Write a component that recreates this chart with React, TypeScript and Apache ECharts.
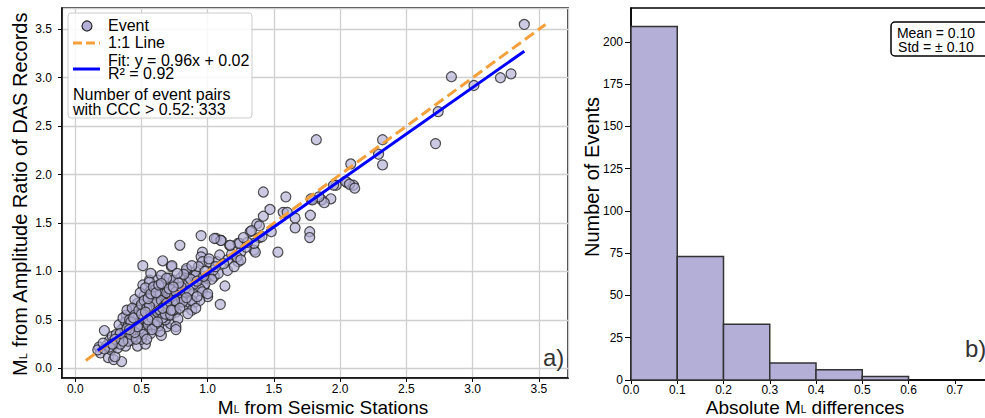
import React, { useEffect, useRef } from "react";
import * as echarts from "echarts";

// ---------- Data ----------
const eventPoints: [number, number][] = [
  // low end
  [0.18, 0.22], [0.19, 0.16], [0.17, 0.19], [0.22, 0.39], [0.25, 0.11], [0.29, 0.09], [0.35, 0.07],
  [0.27, 0.19], [0.3, 0.12], [0.32, 0.21], [0.24, 0.24], [0.26, 0.29], [0.3, 0.26], [0.33, 0.31],
  [0.28, 0.33], [0.36, 0.34], [0.38, 0.23], [0.4, 0.32], [0.37, 0.43], [0.35, 0.4], [0.42, 0.39],
  [0.43, 0.29], [0.47, 0.23], [0.42, 0.57], [0.385, 0.55], [0.45, 0.62], [0.46, 0.5], [0.33, 0.45],
  [0.38, 0.48], [0.4, 0.45], [0.44, 0.45], [0.34, 0.25], [0.31, 0.35], [0.26, 0.22], [0.22, 0.2],
  [0.21, 0.26],
  // middle
  [0.5, 0.44], [0.54, 0.4], [0.57, 0.36], [0.61, 0.41], [0.65, 0.34], [0.69, 0.43], [0.67, 0.5],
  [0.72, 0.46], [0.51, 0.6], [0.47, 0.67], [0.55, 0.68], [0.52, 0.75], [0.57, 0.81], [0.51, 0.86],
  [0.56, 0.91], [0.62, 0.91], [0.67, 0.89], [0.61, 0.84], [0.66, 0.77], [0.71, 0.72], [0.64, 0.65],
  [0.69, 0.6], [0.6, 0.57], [0.56, 0.51], [0.57, 0.98], [0.65, 0.96], [0.71, 0.93], [0.51, 1.06],
  [0.53, 0.25], [0.56, 0.89], [0.48, 0.55], [0.5, 0.52], [0.53, 0.48], [0.55, 0.58], [0.58, 0.62],
  [0.59, 0.7], [0.62, 0.74], [0.63, 0.55], [0.66, 0.58], [0.68, 0.68], [0.7, 0.8], [0.73, 0.76],
  [0.74, 0.66], [0.76, 0.58], [0.78, 0.72], [0.48, 0.35], [0.5, 0.3], [0.44, 0.33], [0.46, 0.4],
  [0.52, 0.38], [0.58, 0.45], [0.6, 0.5], [0.63, 0.44], [0.64, 0.38], [0.68, 0.5], [0.7, 0.55],
  [0.45, 0.71], [0.49, 0.78], [0.53, 0.83], [0.58, 0.73], [0.6, 0.66], [0.66, 0.83], [0.72, 0.86],
  // dense core
  [0.36, 0.52], [0.39, 0.6], [0.41, 0.5], [0.43, 0.62], [0.45, 0.55], [0.47, 0.46], [0.49, 0.41],
  [0.51, 0.35], [0.54, 0.3], [0.55, 0.45], [0.57, 0.55], [0.59, 0.6], [0.61, 0.68], [0.63, 0.78],
  [0.65, 0.7], [0.67, 0.64], [0.69, 0.78], [0.71, 0.65], [0.73, 0.7], [0.75, 0.75], [0.77, 0.66],
  [0.79, 0.76], [0.81, 0.8], [0.83, 0.85], [0.85, 0.95], [0.87, 0.85], [0.89, 0.95], [0.91, 1.0],
  [0.93, 0.88], [0.95, 0.92], [0.97, 0.84], [0.99, 0.93], [1.02, 0.97], [1.05, 0.95], [1.07, 1.1],
  [1.08, 0.98], [0.42, 0.48], [0.44, 0.52], [0.48, 0.6], [0.5, 0.66], [0.52, 0.7], [0.54, 0.62],
  [0.56, 0.64], [0.58, 0.52], [0.6, 0.45], [0.62, 0.58], [0.64, 0.6], [0.66, 0.52], [0.68, 0.56],
  [0.7, 0.62], [0.72, 0.55], [0.74, 0.6], [0.38, 0.38], [0.4, 0.28], [0.42, 0.35], [0.36, 0.28],
  [0.34, 0.36], [0.3, 0.3], [0.28, 0.25], [0.46, 0.3], [0.5, 0.56], [0.53, 0.58], [0.55, 0.72],
  [0.57, 0.77], [0.59, 0.84], [0.61, 0.78], [0.63, 0.86], [0.45, 0.37], [0.47, 0.43], [0.39, 0.41],
  [0.41, 0.4], [0.55, 0.5], [0.58, 0.4], [0.62, 0.48], [0.75, 0.82], [0.8, 0.72], [0.82, 0.64],
  [0.86, 0.68], [0.9, 0.68], [0.88, 0.6],
  // 0.65 - 1.25
  [0.95, 1.37], [0.79, 1.27], [1.065, 1.34], [1.1, 1.32], [1.165, 1.27], [1.23, 1.29], [1.25, 1.2],
  [0.96, 1.2], [0.95, 1.15], [0.96, 1.1], [1.09, 1.17], [1.15, 1.12], [1.23, 1.1], [1.01, 1.1],
  [1.04, 1.01], [1.15, 1.01], [1.13, 0.85], [1.095, 0.66], [0.725, 1.05], [0.84, 1.01], [0.91, 0.96],
  [1.03, 0.92], [0.98, 0.87], [0.94, 0.82], [0.89, 0.86], [0.84, 0.89], [0.79, 0.93], [0.74, 0.91],
  [0.69, 0.93], [0.65, 0.875], [0.71, 0.82], [0.76, 0.79], [0.83, 0.79], [0.89, 0.77], [0.96, 0.79],
  [1.0, 0.74], [0.94, 0.7], [0.88, 0.7], [0.81, 0.685], [0.75, 0.7], [0.69, 0.67], [0.66, 0.62],
  [0.725, 0.6], [0.79, 0.62], [0.85, 0.565], [0.91, 0.62], [0.775, 0.51], [0.76, 0.43], [0.76, 0.4],
  [0.66, 1.11], [0.73, 1.06], [0.84, 1.03], [1.0, 0.77], [1.01, 1.13], [0.87, 0.92], [0.92, 0.9],
  [0.97, 0.95], [0.82, 0.97], [0.77, 0.98], [0.93, 1.05], [0.88, 1.06], [0.8, 0.84], [0.86, 0.8],
  [0.92, 0.74], [0.84, 0.73], [0.78, 0.88], [0.74, 0.84], [0.98, 1.0], [1.06, 1.05], [1.12, 1.08],
  [1.18, 1.18], [1.2, 1.05], [1.22, 1.15],
  // upper
  [1.42, 1.82], [1.59, 1.77], [1.47, 1.64], [1.57, 1.61], [1.66, 1.55], [1.66, 1.45], [1.775, 1.58],
  [1.77, 1.41], [1.77, 1.35], [1.53, 1.2], [1.42, 1.57], [1.37, 1.49], [1.32, 1.41], [1.48, 1.41],
  [1.39, 1.35], [1.35, 1.22], [1.29, 1.25], [1.25, 1.12], [1.78, 1.75], [1.86, 1.74], [1.93, 1.75],
  [1.88, 1.71], [2.05, 1.92], [2.1, 1.89], [2.08, 2.11], [1.97, 1.89], [1.39, 1.47], [1.33, 1.42],
  [1.41, 1.36], [1.36, 1.2], [1.35, 1.29], [1.24, 1.29], [1.17, 1.27], [1.1, 1.32], [1.05, 1.34],
  [1.3, 1.3], [1.27, 1.35], [1.6, 1.61], [1.84, 1.77],
  // outliers
  [3.39, 3.55], [2.84, 3.01], [3.01, 2.92], [3.21, 3.0], [3.29, 3.04], [2.74, 2.65], [2.72, 2.32],
  [1.82, 2.36], [2.32, 2.36], [2.29, 2.21], [2.32, 2.1], [2.04, 1.93], [2.07, 1.9], [2.11, 1.86],
  [1.95, 1.89], [1.79, 1.74],
];

const oneToOneLine: [number, number][] = [[0.08, 0.08], [3.55, 3.55]];
const fitLine: [number, number][] = [[0.17, 0.183], [3.39, 3.274]];

const histBinEdges = [0, 0.1, 0.2, 0.3, 0.4, 0.5, 0.6];
const histCounts = [209, 73, 33, 10, 6, 2];

const legendLabels = ["Event", "1:1 Line", "Fit: y = 0.96x + 0.02\nR² = 0.92"];
const noteText = "Number of event pairs\nwith CCC > 0.52: 333";
const statText = "Mean = 0.10\nStd = ± 0.10";

const FONT = "'Liberation Sans', Arial, sans-serif";
const PURPLE = "#b4afd6";

export default function App() {
  const ref = useRef<HTMLDivElement>(null);

  useEffect(() => {
    if (!ref.current) return;
    const chart = echarts.init(ref.current, undefined, { renderer: "svg" });

    const titleStyle = (text: string, size: number) => ({
      text,
      fontSize: size,
      fontFamily: FONT,
      fill: "#000",
      align: "center",
      verticalAlign: "middle",
      rich: {
        sub: {
          fontSize: Math.round(size * 0.55), fontFamily: FONT, color: "#000", lineHeight: 8,
          verticalAlign: "bottom", padding: [Math.round(size * 0.45), 0, 0, 0],
        },
        main: { fontSize: size, fontFamily: FONT, color: "#000", lineHeight: size - 4 },
      },
    });

    const txt = (x: number, y: number, text: string, size: number, extra: any = {}) => ({
      type: "text",
      x,
      y,
      z: 100,
      style: { text, fontSize: size, fontFamily: FONT, fill: "#000", verticalAlign: "middle", ...extra },
    });

    const baseAxis = {
      axisLine: { show: true, onZero: false, lineStyle: { color: "#000", width: 1.5 } },
      axisTick: { show: true, length: 4, lineStyle: { color: "#000", width: 1 } },
    };

    const option: any = {
      animation: false,
      textStyle: { fontFamily: FONT },
      grid: [
        { left: 62, top: 8, width: 506, height: 370, show: true, borderColor: "#000", borderWidth: 1.5, backgroundColor: "#fff" },
        { left: 631, top: 8, width: 370, height: 372, show: true, borderColor: "#000", borderWidth: 1.5, backgroundColor: "#fff" },
      ],
      xAxis: [
        {
          ...baseAxis,
          type: "value",
          gridIndex: 0,
          min: -0.1,
          max: 3.72,
          splitNumber: 8,
          axisLabel: {
            color: "#000", fontSize: 12, fontFamily: FONT, margin: 5, lineHeight: 12,
            showMinLabel: false, showMaxLabel: false,
            formatter: (v: number) => v.toFixed(1),
          },
          splitLine: { show: true, lineStyle: { color: "#d0d0d0", width: 1.3 } },
        },
        {
          ...baseAxis,
          type: "value",
          gridIndex: 1,
          min: 0,
          max: 0.8,
          interval: 0.1,
          axisLabel: {
            color: "#000", fontSize: 12, fontFamily: FONT, margin: 4, lineHeight: 12,
            showMaxLabel: false,
            formatter: (v: number) => v.toFixed(1),
          },
          splitLine: { show: false },
        },
      ],
      yAxis: [
        {
          ...baseAxis,
          type: "value",
          gridIndex: 0,
          min: -0.1,
          max: 3.72,
          splitNumber: 8,
          axisLabel: {
            color: "#000", fontSize: 12, fontFamily: FONT, margin: 10,
            showMinLabel: false, showMaxLabel: false,
            formatter: (v: number) => v.toFixed(1),
          },
          splitLine: { show: true, lineStyle: { color: "#d0d0d0", width: 1.3 } },
        },
        {
          ...baseAxis,
          type: "value",
          gridIndex: 1,
          min: 0,
          max: 220,
          interval: 25,
          axisTick: { show: true, length: 6, lineStyle: { color: "#000", width: 1 } },
          axisLabel: { color: "#000", fontSize: 12, fontFamily: FONT, margin: 8, showMaxLabel: false },
          splitLine: { show: false },
        },
      ],
      series: [
        {
          type: "scatter",
          xAxisIndex: 0,
          yAxisIndex: 0,
          data: eventPoints,
          symbolSize: 10,
          itemStyle: { color: "rgba(180,175,214,0.85)", borderColor: "#262626", borderWidth: 1.2 },
          z: 2,
        },
        {
          type: "line",
          xAxisIndex: 0,
          yAxisIndex: 0,
          data: oneToOneLine,
          symbol: "none",
          lineStyle: { color: "#f5a03a", width: 3, type: [11, 5] },
          z: 3,
        },
        {
          type: "line",
          xAxisIndex: 0,
          yAxisIndex: 0,
          data: fitLine,
          symbol: "none",
          lineStyle: { color: "#0000ff", width: 3 },
          z: 4,
        },
        {
          type: "custom",
          xAxisIndex: 1,
          yAxisIndex: 1,
          data: histCounts.map((c, i) => [histBinEdges[i], histBinEdges[i + 1], c]),
          encode: { x: [0, 1], y: 2 },
          renderItem: (_params: any, api: any) => {
            const p0 = api.coord([api.value(0), api.value(2)]);
            const p1 = api.coord([api.value(1), 0]);
            return {
              type: "rect",
              shape: { x: p0[0], y: p0[1], width: p1[0] - p0[0], height: p1[1] - p0[1] },
              style: { fill: PURPLE, stroke: "#333", lineWidth: 1.5 },
            };
          },
          z: 2,
        },
      ],
      graphic: [
        // legend box
        {
          type: "rect", z: 100,
          shape: { x: 68, y: 13, width: 184, height: 105, r: 3 },
          style: { fill: "rgba(255,255,255,0.85)", stroke: "#cccccc", lineWidth: 1 },
        },
        {
          type: "circle", z: 101,
          shape: { cx: 87, cy: 26, r: 5 },
          style: { fill: PURPLE, stroke: "#262626", lineWidth: 1.2 },
        },
        txt(108, 25, legendLabels[0], 16),
        {
          type: "line", z: 101,
          shape: { x1: 73, y1: 43, x2: 100, y2: 43 },
          style: { stroke: "#f5a03a", lineWidth: 3, lineDash: [9, 4] },
        },
        txt(108, 42, legendLabels[1], 16),
        {
          type: "line", z: 101,
          shape: { x1: 73, y1: 69, x2: 100, y2: 69 },
          style: { stroke: "#0000ff", lineWidth: 3 },
        },
        txt(108, 66.5, legendLabels[2], 16, { lineHeight: 13 }),
        txt(73, 101.5, noteText, 16, { lineHeight: 15 }),
        // panel tags
        txt(543, 357, "a)", 24, { fill: "#333" }),
        txt(965, 348, "b)", 24, { fill: "#333" }),
        // stats box
        {
          type: "rect", z: 100,
          shape: { x: 891, y: 22, width: 110, height: 34, r: 4 },
          style: { fill: "#fff", stroke: "#000", lineWidth: 1.5 },
        },
        txt(936, 40, statText, 14, { lineHeight: 14, align: "center" }),
        // axis titles
        { type: "text", z: 100, x: 323, y: 407, style: titleStyle("{main|M}{sub|L}{main| from Seismic Stations}", 19) },
        { type: "text", z: 100, x: 20, y: 194, rotation: Math.PI / 2, style: titleStyle("{main|M}{sub|L}{main| from Amplitude Ratio of DAS Records}", 20) },
        { type: "text", z: 100, x: 805, y: 407, style: titleStyle("{main|Absolute M}{sub|L}{main| differences}", 19) },
        { type: "text", z: 100, x: 592, y: 177, rotation: Math.PI / 2, style: titleStyle("{main|Number of Events}", 20) },
      ],
    };

    chart.setOption(option);
    return () => chart.dispose();
  }, []);

  return (
    <div
      ref={ref}
      style={{ position: "fixed", left: 0, top: 0, width: 1010, height: 418, background: "#fff" }}
    />
  );
}
